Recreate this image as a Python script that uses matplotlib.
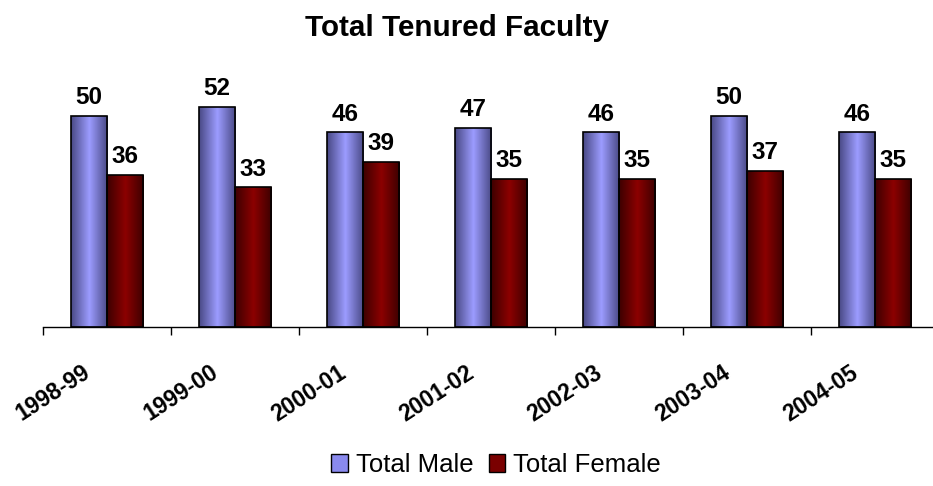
import numpy as np
import matplotlib
matplotlib.use("Agg")
import matplotlib.pyplot as plt
from matplotlib.colors import LinearSegmentedColormap
from matplotlib.patches import Patch

plt.rcParams['font.family'] = ['Liberation Sans', 'DejaVu Sans']

years = ["1998-99", "1999-00", "2000-01", "2001-02", "2002-03", "2003-04", "2004-05"]
male = [50, 52, 46, 47, 46, 50, 46]
female = [36, 33, 39, 35, 35, 37, 35]

male_cmap = LinearSegmentedColormap.from_list("m", ["#484884", "#9c9cff", "#484884"])
female_cmap = LinearSegmentedColormap.from_list("f", ["#3c0000", "#8c0000", "#3c0000"])

fig = plt.figure(figsize=(9.33, 4.86), dpi=100)
ax = fig.add_axes([43 / 933, 1 - 327 / 486, 896 / 933, 247 / 486])

x = np.arange(len(years))
w = 0.285
grad = np.linspace(0, 1, 256).reshape(1, -1)


def gradient_bars(xs, vals, cmap):
    bars = ax.bar(xs, vals, w, facecolor="none", edgecolor="black", linewidth=1.2, zorder=3)
    for b in bars:
        im = ax.imshow(grad, cmap=cmap, aspect="auto", zorder=2,
                       extent=[b.get_x(), b.get_x() + b.get_width(), 0, b.get_height()])
        im.set_clip_path(b)
    for xi, v in zip(xs, vals):
        ax.text(xi, v + 1.6, str(v), ha="center", va="bottom", fontsize=17.5, fontweight="bold")
    return bars


gradient_bars(x - w / 2, male, male_cmap)
gradient_bars(x + w / 2, female, female_cmap)

ax.set_xlim(-0.5, 6.5)
ax.set_ylim(0, 58.4)
for s in ["top", "right", "left"]:
    ax.spines[s].set_visible(False)
ax.spines["bottom"].set_linewidth(1)
ax.set_yticks([])
ax.set_xticks(np.arange(-0.5, 6.5, 1))
ax.set_xticklabels([])
ax.tick_params(axis="x", length=6, width=1, direction="out")

for xi, lab in zip(x, years):
    ax.text(xi - 0.2, -8.0, lab, rotation=33, ha="right", va="top",
            rotation_mode="anchor", fontsize=16.5, fontweight="bold")

fig.text(457 / 933, 1 - 28 / 486, "Total Tenured Faculty", ha="center", va="center",
         fontsize=21.3, fontweight="bold")

handles = [Patch(facecolor="#8a8aee", edgecolor="black", label="Total Male"),
           Patch(facecolor="#7a0000", edgecolor="black", label="Total Female")]
fig.legend(handles=handles, loc="center", bbox_to_anchor=(496 / 933, 1 - 465 / 486), ncol=2,
           frameon=False, fontsize=18.5, handlelength=0.65, handleheight=0.65,
           handletextpad=0.3, columnspacing=0.6)

fig.savefig("out.png", dpi=100)
